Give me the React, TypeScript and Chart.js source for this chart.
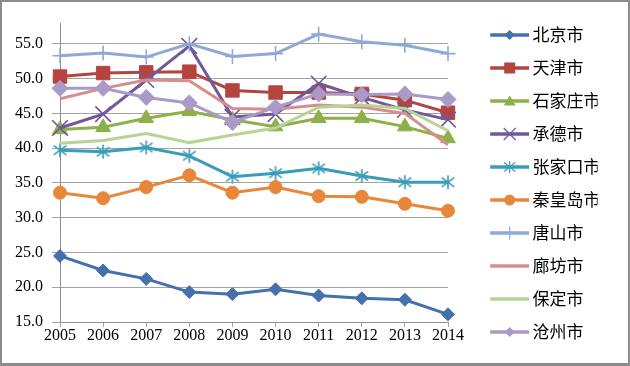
import React, { useEffect, useRef } from 'react';
import { Chart, registerables } from 'chart.js';

Chart.register(...registerables);

// ---- data ----
const years = ['2005', '2006', '2007', '2008', '2009', '2010', '2011', '2012', '2013', '2014'];
const cityNames = ['北京市', '天津市', '石家庄市', '承德市', '张家口市', '秦皇岛市', '唐山市', '廊坊市', '保定市', '沧州市'];
const beijing = [24.5, 22.4, 21.2, 19.3, 19.0, 19.7, 18.8, 18.4, 18.2, 16.1];
const tianjin = [50.3, 50.8, 50.9, 51.0, 48.3, 48.0, 48.0, 47.8, 46.9, 45.1];
const shijiazhuang = [42.7, 43.0, 44.3, 45.3, 44.1, 43.1, 44.3, 44.3, 43.1, 41.4];
const chengde = [42.9, 44.9, 49.8, 54.7, 44.5, 44.9, 49.3, 47.3, 45.5, 44.1];
const zhangjiakou = [39.7, 39.5, 40.1, 38.9, 35.9, 36.4, 37.1, 36.0, 35.1, 35.1];
const qinhuangdao = [33.6, 32.8, 34.4, 36.1, 33.6, 34.4, 33.1, 33.0, 32.0, 31.0];
const tangshan = [53.3, 53.7, 53.1, 55.0, 53.2, 53.6, 56.4, 55.3, 54.8, 53.6];
const langfang = [47.1, 48.6, 49.8, 49.7, 45.7, 45.6, 46.2, 45.9, 45.0, 40.5];
const baoding = [40.7, 41.1, 42.1, 40.8, 41.9, 42.9, 45.9, 46.2, 45.7, 42.5];
const cangzhou = [48.6, 48.6, 47.3, 46.5, 43.7, 45.9, 47.8, 47.7, 47.8, 47.0];
const yMin = 15;
const yMax = 58;
const yStep = 5;

const seriesValues = [beijing, tianjin, shijiazhuang, chengde, zhangjiakou, qinhuangdao, tangshan, langfang, baoding, cangzhou];

// ---- styles ----
type Marker = 'diamond' | 'square' | 'triangle' | 'x' | 'asterisk' | 'circle' | 'plus' | 'none';
const seriesStyles: { color: string; marker: Marker; radius: number }[] = [
  { color: '#4470AB', marker: 'diamond', radius: 6.5 },
  { color: '#B5443F', marker: 'square', radius: 9.5 },
  { color: '#8DB04A', marker: 'triangle', radius: 8.5 },
  { color: '#71589A', marker: 'x', radius: 11 },
  { color: '#3A9CB8', marker: 'asterisk', radius: 7 },
  { color: '#E8873A', marker: 'circle', radius: 6.5 },
  { color: '#8EA9D8', marker: 'plus', radius: 7.5 },
  { color: '#D58E8C', marker: 'none', radius: 0 },
  { color: '#B8D492', marker: 'none', radius: 0 },
  { color: '#A99AC8', marker: 'diamond', radius: 8 },
];

const chartStyleMap: Record<string, string> = {
  diamond: 'rectRot',
  square: 'rect',
  triangle: 'triangle',
  x: 'crossRot',
  circle: 'circle',
  plus: 'cross',
};

// legend swatch geometry
const SWATCH_W = 70;
const SWATCH_LINE_START = 31.2;
const SWATCH_MARK_X = 50.7;

function makeAsterisk(color: string, r: number): HTMLCanvasElement {
  const size = Math.ceil(r * 2 + 4);
  const c = document.createElement('canvas');
  c.width = size;
  c.height = size;
  const ctx = c.getContext('2d')!;
  const cx = size / 2;
  const cy = size / 2;
  ctx.strokeStyle = color;
  ctx.lineWidth = 1.6;
  ctx.beginPath();
  ctx.moveTo(cx, cy - r);
  ctx.lineTo(cx, cy + r);
  const d = r * 0.9;
  ctx.moveTo(cx - d, cy - d * 0.75);
  ctx.lineTo(cx + d, cy + d * 0.75);
  ctx.moveTo(cx + d, cy - d * 0.75);
  ctx.lineTo(cx - d, cy + d * 0.75);
  ctx.stroke();
  return c;
}

function makeSwatch(color: string, marker: Marker): HTMLCanvasElement {
  const c = document.createElement('canvas');
  c.width = SWATCH_W;
  c.height = 20;
  const ctx = c.getContext('2d')!;
  ctx.strokeStyle = color;
  ctx.fillStyle = color;
  ctx.lineWidth = 3.5;
  ctx.beginPath();
  ctx.moveTo(SWATCH_LINE_START, 10);
  ctx.lineTo(SWATCH_W, 10);
  ctx.stroke();
  const cx = SWATCH_MARK_X;
  const cy = 10;
  ctx.lineWidth = 1.2;
  ctx.beginPath();
  switch (marker) {
    case 'diamond':
      ctx.moveTo(cx, cy - 5);
      ctx.lineTo(cx + 5, cy);
      ctx.lineTo(cx, cy + 5);
      ctx.lineTo(cx - 5, cy);
      ctx.closePath();
      ctx.fill();
      break;
    case 'square':
      ctx.fillRect(cx - 5.5, cy - 5.5, 11, 11);
      break;
    case 'triangle':
      ctx.moveTo(cx, cy - 5.5);
      ctx.lineTo(cx + 6, cy + 4.5);
      ctx.lineTo(cx - 6, cy + 4.5);
      ctx.closePath();
      ctx.fill();
      break;
    case 'x':
      ctx.moveTo(cx - 6, cy - 6);
      ctx.lineTo(cx + 6, cy + 6);
      ctx.moveTo(cx + 6, cy - 6);
      ctx.lineTo(cx - 6, cy + 6);
      ctx.stroke();
      break;
    case 'asterisk':
      ctx.moveTo(cx, cy - 6);
      ctx.lineTo(cx, cy + 6);
      ctx.moveTo(cx - 5.5, cy - 4.5);
      ctx.lineTo(cx + 5.5, cy + 4.5);
      ctx.moveTo(cx + 5.5, cy - 4.5);
      ctx.lineTo(cx - 5.5, cy + 4.5);
      ctx.stroke();
      break;
    case 'circle':
      ctx.arc(cx, cy, 5.5, 0, Math.PI * 2);
      ctx.fill();
      break;
    case 'plus':
      ctx.moveTo(cx, cy - 6.5);
      ctx.lineTo(cx, cy + 6.5);
      ctx.stroke();
      break;
    default:
      break;
  }
  return c;
}

export default function App() {
  const canvasRef = useRef<HTMLCanvasElement | null>(null);

  useEffect(() => {
    const canvas = canvasRef.current;
    if (!canvas) return;

    const swatches = seriesStyles.map((s) => makeSwatch(s.color, s.marker));

    const datasets = seriesValues.map((vals, i) => {
      const st = seriesStyles[i];
      const pointStyle: any =
        st.marker === 'asterisk' ? makeAsterisk(st.color, st.radius) : chartStyleMap[st.marker] || 'circle';
      const isLineMarker = st.marker === 'x' || st.marker === 'plus';
      return {
        label: cityNames[i],
        data: vals,
        borderColor: st.color,
        backgroundColor: st.color,
        borderWidth: 3,
        tension: 0,
        pointStyle,
        pointRadius: st.radius,
        pointHoverRadius: st.radius,
        pointBorderWidth: isLineMarker ? 1.6 : 1,
        pointBorderColor: st.color,
        pointBackgroundColor: st.color,
        order: seriesValues.length - 1 - i,
        clip: false as any,
      };
    });

    const gridColor = '#a3a3a3';
    const tickFont = { family: "'Liberation Serif', 'Times New Roman', serif", size: 16 };

    const chart = new Chart(canvas, {
      type: 'line',
      data: { labels: years, datasets },
      options: {
        animation: false,
        responsive: false,
        events: [],
        layout: { padding: { left: 0, right: 27.7, top: 2, bottom: 0 } },
        plugins: {
          tooltip: { enabled: false },
          title: { display: false },
          legend: {
            display: true,
            position: 'right',
            align: 'center',
            labels: {
              usePointStyle: true,
              pointStyleWidth: 60,
              padding: 16,
              color: '#262626',
              font: { family: "'Noto Sans CJK SC', 'Noto Sans', sans-serif", size: 17 },
              generateLabels: (ch: any) =>
                ch.data.datasets.map((ds: any, i: number) => ({
                  text: ds.label,
                  pointStyle: swatches[i],
                  fillStyle: 'rgba(0,0,0,0)',
                  strokeStyle: 'rgba(0,0,0,0)',
                  lineWidth: 0,
                  hidden: false,
                  datasetIndex: i,
                })),
            },
          },
        },
        scales: {
          x: {
            type: 'category',
            offset: false,
            grid: {
              display: true,
              drawOnChartArea: false,
              drawTicks: true,
              tickLength: 5,
              color: gridColor,
            },
            border: { display: true, color: '#8f8f8f', width: 1 },
            ticks: {
              color: '#000000',
              font: { ...tickFont, lineHeight: 1 },
              padding: 1,
              maxRotation: 0,
              autoSkip: false,
            },
            afterFit: (scale: any) => {
              scale.height = 41;
              scale.paddingRight = 180;
            },
          },
          y: {
            type: 'linear',
            min: yMin,
            max: yMax,
            grid: {
              display: true,
              drawOnChartArea: true,
              drawTicks: true,
              tickLength: 8,
              color: gridColor,
              lineWidth: 1,
            },
            border: { display: true, color: '#8f8f8f', width: 1 },
            ticks: {
              stepSize: yStep,
              includeBounds: false,
              color: '#000000',
              font: tickFont,
              padding: 9,
              callback: (v: any) => Number(v).toFixed(1),
            },
            afterFit: (scale: any) => {
              scale.width = 58;
              scale.paddingTop = 21;
            },
          },
        },
      },
    });

    return () => {
      chart.destroy();
    };
  }, []);

  return (
    <div
      style={{
        position: 'absolute',
        left: 0,
        top: 0,
        width: 630,
        height: 366,
        boxSizing: 'border-box',
        border: '2px solid #8c8c8c',
        borderBottomWidth: 3,
        background: '#ffffff',
        overflow: 'hidden',
      }}
    >
      <canvas ref={canvasRef} width={626} height={361} style={{ display: 'block' }} />
    </div>
  );
}
